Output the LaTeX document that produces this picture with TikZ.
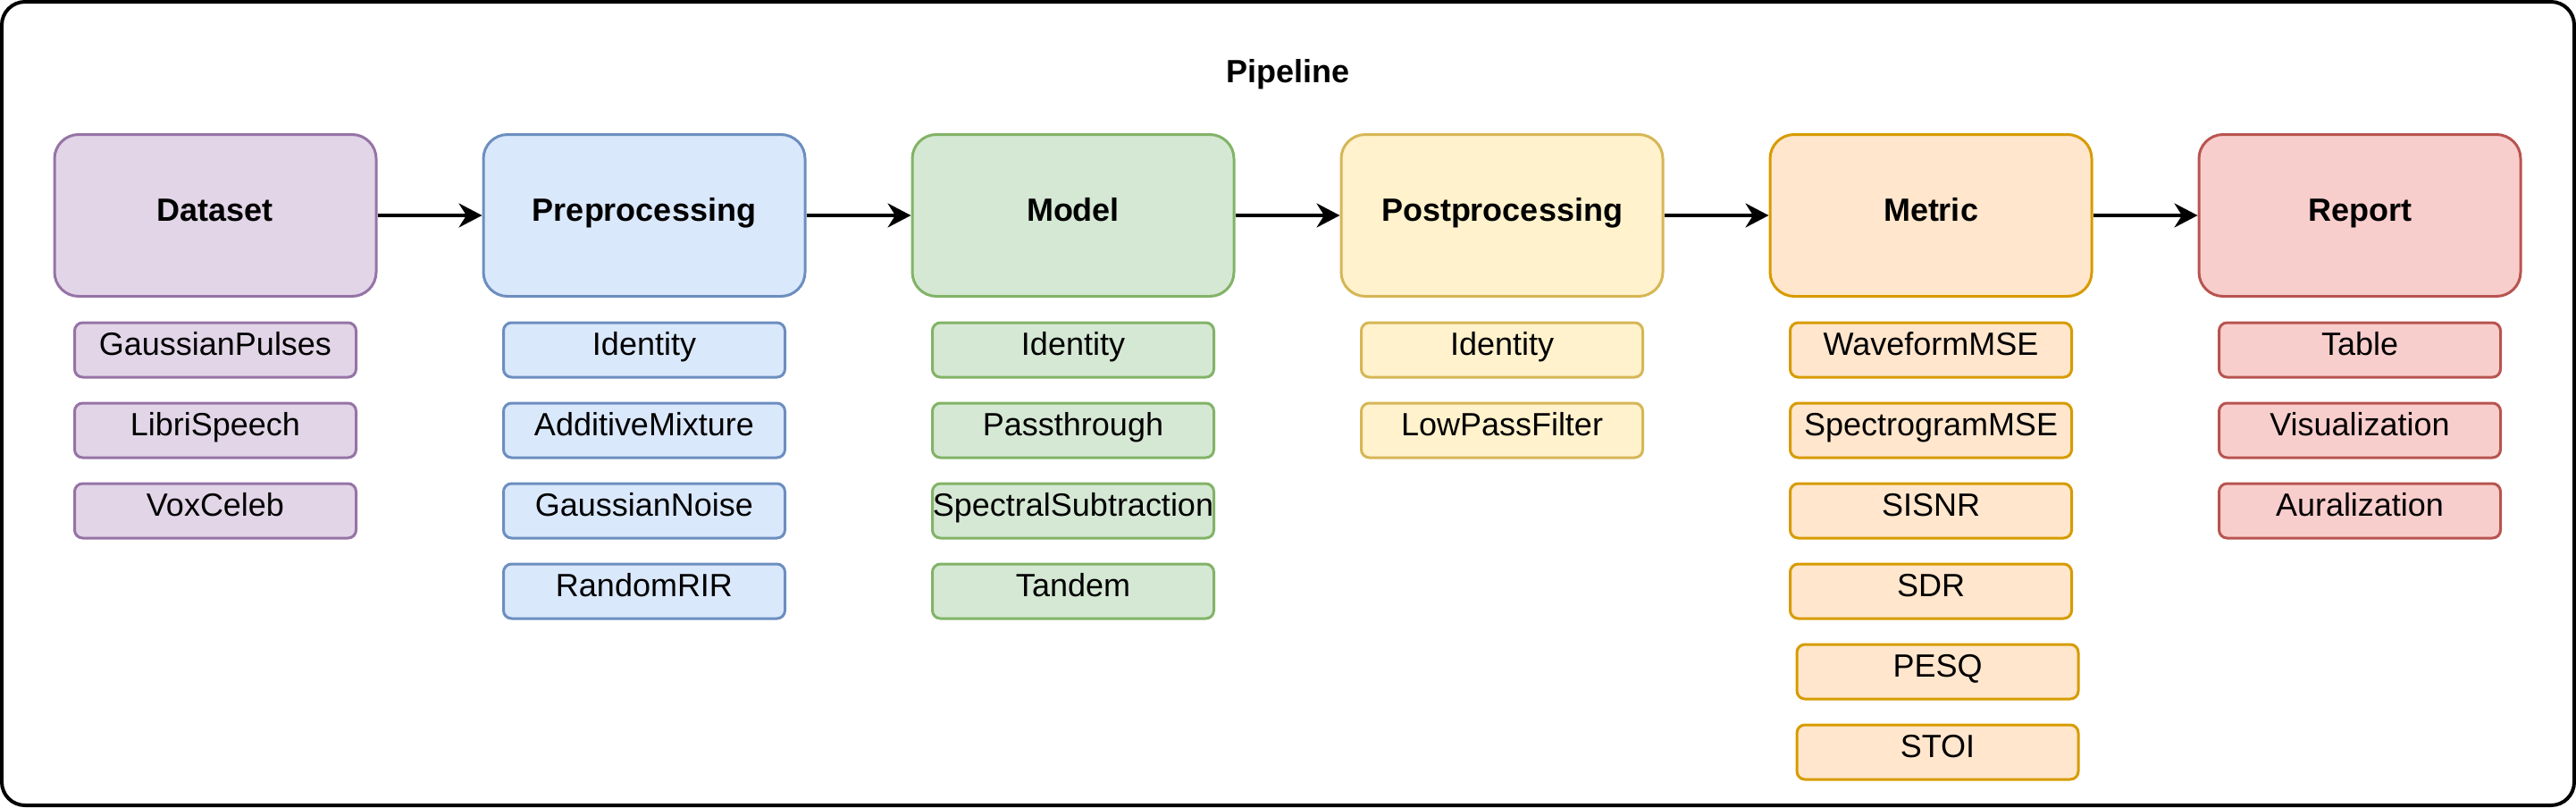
\documentclass[tikz,border=0pt]{standalone}
\usepackage{fontspec}
\setmainfont{Liberation Sans}
\usetikzlibrary{positioning,arrows.meta}
\definecolor{PurpleFill}{HTML}{E1D5E7}
\definecolor{PurpleLine}{HTML}{9673A6}
\definecolor{BlueFill}{HTML}{DAE8FC}
\definecolor{BlueLine}{HTML}{6C8EBF}
\definecolor{GreenFill}{HTML}{D5E8D4}
\definecolor{GreenLine}{HTML}{82B366}
\definecolor{YellowFill}{HTML}{FFF2CC}
\definecolor{YellowLine}{HTML}{D6B656}
\definecolor{OrangeFill}{HTML}{FFE6CC}
\definecolor{OrangeLine}{HTML}{D79B00}
\definecolor{RedFill}{HTML}{F8CECC}
\definecolor{RedLine}{HTML}{B85450}
\newcommand{\labelsize}{\fontsize{10.24pt}{12pt}\selectfont}
\tikzset{
  flow/.style={-{Stealth[length=2.6mm,width=2.7mm]},line width=0.35mm,draw=black},
  framebox/.style={draw=black,line width=0.4mm,rounded corners=2.6mm,
    minimum width=287.9mm,minimum height=89.9mm,inner sep=0pt},
  stagebox/.style={rounded corners=2.7mm,line width=0.3mm,inner sep=0pt,
    minimum width=36mm,minimum height=18.1mm,align=center,font=\labelsize\bfseries,
    text height=0.7em,text depth=0.34em},
  itembox/.style={rounded corners=0.9mm,line width=0.3mm,inner sep=0pt,
    minimum width=31.5mm,minimum height=6.1mm,align=center,font=\labelsize,
    text height=0.7em,text depth=0.34em},
  purplebox/.style={draw=PurpleLine,fill=PurpleFill},
  bluebox/.style={draw=BlueLine,fill=BlueFill},
  greenbox/.style={draw=GreenLine,fill=GreenFill},
  yellowbox/.style={draw=YellowLine,fill=YellowFill},
  orangebox/.style={draw=OrangeLine,fill=OrangeFill},
  redbox/.style={draw=RedLine,fill=RedFill}
}

\begin{document}
\begin{tikzpicture}[node distance=2.6mm]
  \useasboundingbox (0,0) rectangle (288.3mm,-90.3mm);
  \node[framebox] (frame) at (144.15mm,-45.15mm) {};
  \node[font=\labelsize\bfseries] (title) at (144.15mm,-8.3mm) {Pipeline};

  % stages
  \node[stagebox,purplebox] (dataset) at (24.1mm,-24.1mm) {Dataset};
  \node[stagebox,bluebox,right=11.7mm of dataset] (pre) {Preprocessing};
  \node[stagebox,greenbox,right=11.7mm of pre] (model) {Model};
  \node[stagebox,yellowbox,right=11.7mm of model] (post) {Postprocessing};
  \node[stagebox,orangebox,right=11.7mm of post] (metric) {Metric};
  \node[stagebox,redbox,right=11.7mm of metric] (report) {Report};
  \draw[flow] (dataset) -- (pre);
  \draw[flow] (pre) -- (model);
  \draw[flow] (model) -- (post);
  \draw[flow] (post) -- (metric);
  \draw[flow] (metric) -- (report);

  % options of each stage
  \node[itembox,purplebox,below=2.65mm of dataset] (pulses) {GaussianPulses};
  \node[itembox,purplebox,below=of pulses] (libri) {LibriSpeech};
  \node[itembox,purplebox,below=of libri] (vox) {VoxCeleb};

  \node[itembox,bluebox,below=2.65mm of pre] (preid) {Identity};
  \node[itembox,bluebox,below=of preid] (mixture) {AdditiveMixture};
  \node[itembox,bluebox,below=of mixture] (noise) {GaussianNoise};
  \node[itembox,bluebox,below=of noise] (rir) {RandomRIR};

  \node[itembox,greenbox,below=2.65mm of model] (modelid) {Identity};
  \node[itembox,greenbox,below=of modelid] (pass) {Passthrough};
  \node[itembox,greenbox,below=of pass] (specsub) {SpectralSubtraction};
  \node[itembox,greenbox,below=of specsub] (tandem) {Tandem};

  \node[itembox,yellowbox,below=2.65mm of post] (postid) {Identity};
  \node[itembox,yellowbox,below=of postid] (lowpass) {LowPassFilter};

  \node[itembox,orangebox,below=2.65mm of metric] (wavmse) {WaveformMSE};
  \node[itembox,orangebox,below=of wavmse] (specmse) {SpectrogramMSE};
  \node[itembox,orangebox,below=of specmse] (sisnr) {SISNR};
  \node[itembox,orangebox,below=of sisnr] (sdr) {SDR};
  \node[itembox,orangebox,below=of sdr,xshift=0.75mm] (pesq) {PESQ};
  \node[itembox,orangebox,below=of pesq] (stoi) {STOI};

  \node[itembox,redbox,below=2.65mm of report] (table) {Table};
  \node[itembox,redbox,below=of table] (vis) {Visualization};
  \node[itembox,redbox,below=of vis] (aur) {Auralization};
\end{tikzpicture}
\end{document}
